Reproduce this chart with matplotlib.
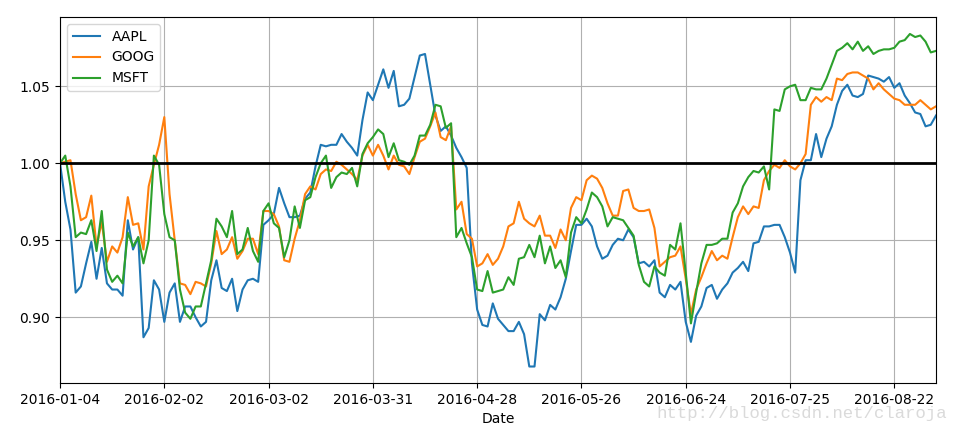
import numpy as np
import matplotlib.pyplot as plt

# normalised closing prices (first trading day = 1), one value per trading day
aapl = [1.000, 0.975, 0.957, 0.916, 0.920, 0.935, 0.949, 0.925, 0.945, 0.922,
        0.918, 0.918, 0.914, 0.963, 0.944, 0.952, 0.887, 0.893, 0.924, 0.918,
        0.897, 0.916, 0.922, 0.897, 0.907, 0.907, 0.900, 0.894, 0.897, 0.924,
        0.937, 0.919, 0.917, 0.925, 0.904, 0.918, 0.924, 0.925, 0.923, 0.960,
        0.963, 0.967, 0.984, 0.974, 0.965, 0.965, 0.966, 0.977, 0.981, 0.998,
        1.012, 1.011, 1.012, 1.012, 1.019, 1.014, 1.010, 1.005, 1.028, 1.046,
        1.041, 1.051, 1.061, 1.049, 1.060, 1.037, 1.038, 1.042, 1.056, 1.070,
        1.071, 1.051, 1.031, 1.021, 1.024, 1.018, 1.010, 1.004, 0.997, 0.935,
        0.905, 0.895, 0.894, 0.909, 0.899, 0.895, 0.891, 0.891, 0.897, 0.889,
        0.868, 0.868, 0.902, 0.898, 0.908, 0.905, 0.913, 0.925, 0.943, 0.960,
        0.960, 0.964, 0.959, 0.946, 0.938, 0.940, 0.947, 0.951, 0.950, 0.957,
        0.952, 0.935, 0.936, 0.933, 0.937, 0.916, 0.913, 0.921, 0.918, 0.923,
        0.897, 0.884, 0.901, 0.907, 0.919, 0.921, 0.912, 0.918, 0.922, 0.929,
        0.932, 0.936, 0.930, 0.948, 0.949, 0.959, 0.959, 0.960, 0.960, 0.952,
        0.942, 0.929, 0.989, 1.002, 1.002, 1.019, 1.004, 1.016, 1.024, 1.038,
        1.047, 1.051, 1.044, 1.043, 1.045, 1.057, 1.056, 1.055, 1.053, 1.056,
        1.049, 1.052, 1.044, 1.039, 1.033, 1.032, 1.024, 1.025, 1.031]

goog = [1.000, 1.001, 1.002, 0.980, 0.963, 0.965, 0.979, 0.946, 0.962, 0.936,
        0.946, 0.942, 0.952, 0.978, 0.960, 0.961, 0.944, 0.985, 0.999, 1.012,
        1.030, 0.980, 0.950, 0.922, 0.921, 0.915, 0.923, 0.922, 0.920, 0.935,
        0.956, 0.941, 0.944, 0.952, 0.938, 0.943, 0.951, 0.951, 0.941, 0.969,
        0.969, 0.967, 0.959, 0.937, 0.936, 0.951, 0.963, 0.980, 0.985, 0.983,
        0.993, 0.996, 0.995, 1.001, 0.999, 0.996, 0.993, 0.989, 1.005, 1.012,
        1.005, 1.012, 1.005, 0.996, 1.005, 0.999, 0.998, 0.993, 1.004, 1.014,
        1.016, 1.024, 1.033, 1.017, 1.015, 1.024, 0.970, 0.975, 0.954, 0.951,
        0.933, 0.935, 0.941, 0.934, 0.938, 0.946, 0.959, 0.961, 0.975, 0.964,
        0.961, 0.959, 0.966, 0.953, 0.953, 0.945, 0.957, 0.950, 0.971, 0.978,
        0.976, 0.989, 0.992, 0.990, 0.984, 0.974, 0.966, 0.966, 0.982, 0.983,
        0.971, 0.969, 0.969, 0.970, 0.958, 0.933, 0.936, 0.939, 0.940, 0.946,
        0.925, 0.902, 0.918, 0.926, 0.935, 0.943, 0.937, 0.940, 0.938, 0.952,
        0.965, 0.972, 0.967, 0.972, 0.971, 0.989, 0.995, 0.999, 0.997, 1.002,
        0.998, 0.996, 1.000, 1.006, 1.038, 1.043, 1.040, 1.043, 1.041, 1.055,
        1.054, 1.058, 1.059, 1.059, 1.057, 1.055, 1.048, 1.052, 1.048, 1.045,
        1.042, 1.041, 1.038, 1.038, 1.038, 1.041, 1.038, 1.035, 1.037]

msft = [1.000, 1.005, 0.985, 0.952, 0.955, 0.954, 0.963, 0.943, 0.969, 0.931,
        0.923, 0.927, 0.922, 0.955, 0.946, 0.952, 0.935, 0.950, 1.005, 0.999,
        0.967, 0.952, 0.950, 0.918, 0.903, 0.899, 0.907, 0.907, 0.922, 0.937,
        0.964, 0.959, 0.952, 0.969, 0.941, 0.944, 0.958, 0.943, 0.936, 0.969,
        0.974, 0.961, 0.958, 0.939, 0.950, 0.972, 0.958, 0.976, 0.978, 0.991,
        1.000, 1.005, 0.984, 0.991, 0.994, 0.993, 0.997, 0.985, 1.006, 1.013,
        1.017, 1.022, 1.019, 1.004, 1.013, 1.002, 1.001, 0.999, 1.005, 1.018,
        1.018, 1.025, 1.038, 1.037, 1.023, 1.026, 0.952, 0.958, 0.948, 0.939,
        0.918, 0.917, 0.930, 0.916, 0.917, 0.918, 0.926, 0.921, 0.938, 0.939,
        0.947, 0.939, 0.953, 0.935, 0.946, 0.932, 0.937, 0.926, 0.955, 0.965,
        0.961, 0.970, 0.981, 0.978, 0.972, 0.959, 0.965, 0.964, 0.963, 0.958,
        0.953, 0.934, 0.923, 0.920, 0.933, 0.929, 0.927, 0.947, 0.944, 0.961,
        0.929, 0.896, 0.916, 0.935, 0.947, 0.947, 0.948, 0.951, 0.951, 0.968,
        0.974, 0.985, 0.991, 0.995, 0.994, 0.998, 0.983, 1.035, 1.034, 1.048,
        1.050, 1.051, 1.041, 1.041, 1.049, 1.048, 1.048, 1.055, 1.064, 1.073,
        1.075, 1.078, 1.074, 1.079, 1.073, 1.076, 1.071, 1.073, 1.074, 1.074,
        1.075, 1.079, 1.080, 1.084, 1.082, 1.083, 1.079, 1.072, 1.073]

tick_labels = ['2016-01-04', '2016-02-02', '2016-03-02', '2016-03-31',
               '2016-04-28', '2016-05-26', '2016-06-24', '2016-07-25',
               '2016-08-22']
tick_step = 20

x = np.arange(len(aapl))

fig = plt.figure(figsize=(9.59, 4.33), dpi=100)
ax = fig.add_axes([0.0626, 0.1155, 0.9134, 0.8452])

ax.plot(x, aapl, label='AAPL', color='#1f77b4', lw=1.5)
ax.plot(x, goog, label='GOOG', color='#ff7f0e', lw=1.5)
ax.plot(x, msft, label='MSFT', color='#2ca02c', lw=1.5)
ax.axhline(1.0, color='black', lw=2)

ax.set_xlim(0, len(aapl) - 1)
ax.set_ylim(0.8573, 1.095)
ax.set_xticks(np.arange(len(tick_labels)) * tick_step)
ax.set_xticklabels(tick_labels)
ax.set_yticks([0.90, 0.95, 1.00, 1.05])
ax.grid(True)
ax.set_xlabel('Date')
ax.legend(loc='upper left')

# blog watermark in the lower right corner
fig.text(0.9875, 0.045, 'http://blog.csdn.net/claroja', ha='right', va='center',
         fontsize=12.5, family='Liberation Mono', color='#dadada')

fig.savefig('out.png', dpi=100)
